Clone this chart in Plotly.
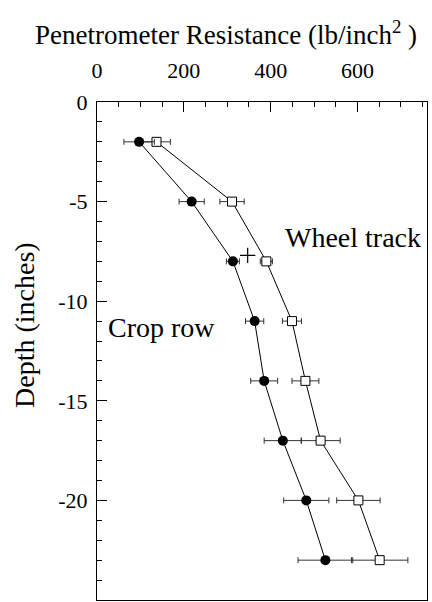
import plotly.graph_objects as go

depth = [-2, -5, -8, -11, -14, -17, -20, -23]
crop_row = [97, 218, 313, 363, 385, 428, 482, 526]
crop_err = [35, 29, 15, 21, 31, 43, 52, 63]
wheel_track = [137, 311, 390, 449, 480, 515, 602, 651]
wheel_err = [32, 28, 14, 22, 31, 45, 50, 65]
stray_x = [347]
stray_y = [-7.7]
x_ticks = [0, 200, 400, 600]
y_ticks = [0, -5, -10, -15, -20, -25]
y_ticktext = ["0", "-5", "-10", "-15", "-20", "-25"]

FONT = "Liberation Serif"

fig = go.Figure()
fig.add_trace(go.Scatter(
    x=wheel_track, y=depth, mode="lines+markers",
    line=dict(color="black", width=1),
    marker=dict(symbol="square", size=9, color="white", line=dict(color="black", width=1)),
    error_x=dict(type="data", array=wheel_err, color="#333", thickness=1, width=3),
    showlegend=False))
fig.add_trace(go.Scatter(
    x=crop_row, y=depth, mode="lines+markers",
    line=dict(color="black", width=1),
    marker=dict(symbol="circle", size=10, color="black"),
    error_x=dict(type="data", array=crop_err, color="#333", thickness=1, width=3),
    showlegend=False))
fig.add_trace(go.Scatter(
    x=stray_x, y=stray_y, mode="markers",
    marker=dict(symbol="cross-thin", size=11, line=dict(color="black", width=1.2)),
    showlegend=False))

fig.update_layout(
    width=432, height=602,
    margin=dict(l=97, r=5, t=102, b=2),
    plot_bgcolor="white", paper_bgcolor="white",
    font=dict(family=FONT, size=20, color="black"),
    xaxis=dict(side="top", range=[0, 760], tickvals=x_ticks,
               ticks="inside", ticklen=10, tickcolor="black", tickwidth=1,
               ticklabelstandoff=14,
               minor=dict(dtick=50, ticks="inside", ticklen=5, tickcolor="black"),
               showgrid=False, zeroline=False, showline=True, linecolor="black",
               linewidth=1, mirror=True, tickfont=dict(family=FONT, size=22)),
    yaxis=dict(range=[-25, 0], tickvals=y_ticks, ticktext=y_ticktext,
               ticks="inside", ticklen=10, tickcolor="black", tickwidth=1,
               ticklabelstandoff=4,
               minor=dict(dtick=1, ticks="inside", ticklen=5, tickcolor="black"),
               showgrid=False, zeroline=False, showline=True, linecolor="black",
               linewidth=1, mirror=True, tickfont=dict(family=FONT, size=22)),
    annotations=[
        dict(text="Penetrometer Resistance (lb/inch<sup>2</sup> )", xref="paper", yref="paper",
             x=(226 - 97) / 330, y=(600 - 33) / 498, xanchor="center", yanchor="middle",
             showarrow=False, font=dict(family=FONT, size=27)),
        dict(text="Depth (inches)", xref="paper", yref="paper",
             x=(24 - 97) / 330, y=(600 - 325) / 498, xanchor="center", yanchor="middle",
             textangle=-90, showarrow=False, font=dict(family=FONT, size=28)),
        dict(text="Wheel track", xref="paper", yref="paper",
             x=(353 - 97) / 330, y=(600 - 237) / 498, xanchor="center", yanchor="middle",
             showarrow=False, font=dict(family=FONT, size=28)),
        dict(text="Crop row", xref="paper", yref="paper",
             x=(161 - 97) / 330, y=(600 - 327) / 498, xanchor="center", yanchor="middle",
             showarrow=False, font=dict(family=FONT, size=28)),
    ],
)

fig.write_html("out.html")
